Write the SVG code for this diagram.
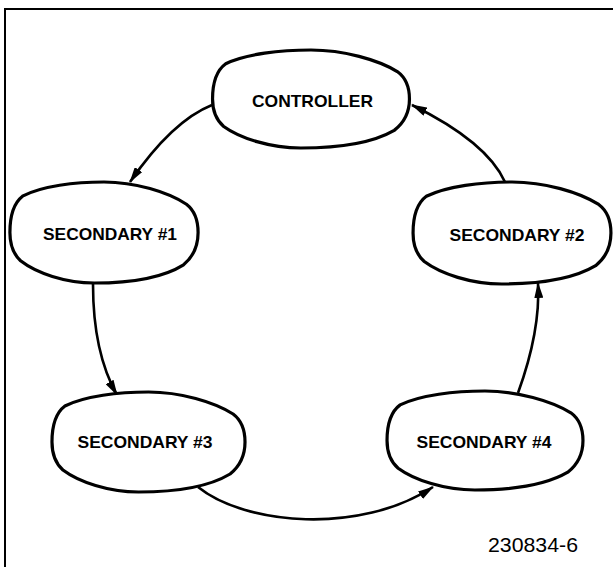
<svg xmlns="http://www.w3.org/2000/svg" xmlns:xlink="http://www.w3.org/1999/xlink" width="613" height="567" viewBox="0 0 613 567">
<style>
.blob{fill:#fff;stroke:#000;stroke-width:3.2;vector-effect:non-scaling-stroke}
.lbl{font-family:"Liberation Sans",Arial,sans-serif;font-weight:bold;font-size:17px;text-anchor:middle;fill:#000}
.con{fill:none;stroke:#000;stroke-width:2.6;marker-end:url(#ah)}
.frame{fill:none;stroke:#000;stroke-width:2}
.code{font-family:"Liberation Sans",Arial,sans-serif;font-size:19.5px;fill:#000}
</style>
<defs>
<path id="blobshape" class="blob" d="M-97,0 C-97,-18 -92,-30 -84,-36 C-64,-46 -30,-50 0,-50 C32,-50 66,-40 85,-28 C93,-22 97,-12 97,0 C97,14 92,24 82,32 C62,44 30,50 -10,50 C-40,50 -70,40 -86,28 C-95,20 -97,10 -97,0 Z"/>
<marker id="ah" markerUnits="userSpaceOnUse" markerWidth="16" markerHeight="9" refX="15" refY="4.5" orient="auto">
<path d="M0,0 L16,4.5 L0,9 Z" fill="#000"/>
</marker>
</defs>
<rect width="613" height="567" fill="#fff"/>
<path class="frame" d="M5,567 L5,9 L613,9"/>
<g id="connectors">
<path class="con" d="M212,105 Q172,121 130,182"/>
<path class="con" d="M93,284 C93,330 100,365 117,395"/>
<path class="con" d="M198,487 C245,525 360,535 433,487"/>
<path class="con" d="M518,393 C530,360 540,320 538,283"/>
<path class="con" d="M505,182 Q487,142 412,105"/>
</g>
<g id="controller">
<use xlink:href="#blobshape" transform="translate(311,99) scale(1.015,0.98)"/>
<text class="lbl" x="312.5" y="107" textLength="121" lengthAdjust="spacingAndGlyphs">CONTROLLER</text>
</g>
<g id="secondary1">
<use xlink:href="#blobshape" transform="translate(104,232.5) scale(0.97,1.01)"/>
<text class="lbl" x="110" y="240" textLength="134" lengthAdjust="spacingAndGlyphs">SECONDARY #1</text>
</g>
<g id="secondary2">
<use xlink:href="#blobshape" transform="translate(512,233) scale(1.02,1.02)"/>
<text class="lbl" x="517" y="241" textLength="135" lengthAdjust="spacingAndGlyphs">SECONDARY #2</text>
</g>
<g id="secondary3">
<use xlink:href="#blobshape" transform="translate(148.5,442) scale(0.995,1)"/>
<text class="lbl" x="145" y="448" textLength="135" lengthAdjust="spacingAndGlyphs">SECONDARY #3</text>
</g>
<g id="secondary4">
<use xlink:href="#blobshape" transform="translate(485,440.5) scale(1.01,0.99)"/>
<text class="lbl" x="484" y="448" textLength="135" lengthAdjust="spacingAndGlyphs">SECONDARY #4</text>
</g>
<text class="code" x="488" y="552" textLength="90" lengthAdjust="spacingAndGlyphs">230834-6</text>
</svg>
